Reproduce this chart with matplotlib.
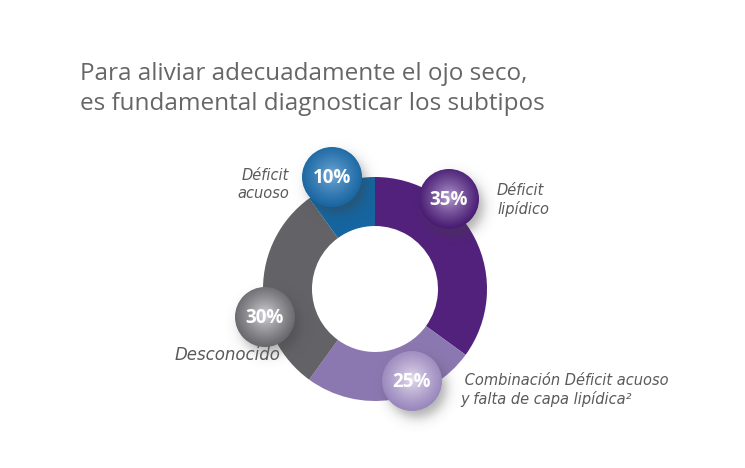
import numpy as np
import matplotlib
matplotlib.use("Agg")
import matplotlib.pyplot as plt
from matplotlib.patches import Circle
from matplotlib.colors import to_rgb

# data
categories = ["Déficit lipídico",
              "Combinación Déficit acuoso y falta de capa lipídica²",
              "Desconocido",
              "Déficit acuoso"]
values = [35, 25, 30, 10]
pct_labels = ["35%", "25%", "30%", "10%"]
side_labels = ["Déficit\nlipídico",
               " Combinación Déficit acuoso\ny falta de capa lipídica²",
               "Desconocido",
               "Déficit\nacuoso"]
title = "Para aliviar adecuadamente el ojo seco,\nes fundamental diagnosticar los subtipos"

# style / layout
colors = ["#52217c", "#8b78b0", "#636267", "#1565a0"]
bubble_light = ["#bba6d6", "#ebe4f2", "#dcdbe0", "#78aeda"]
bubble_dark = ["#4a1d74", "#9a88bd", "#6a696e", "#1b67a3"]
bubble_pos = [(449, 199), (412, 381), (265, 317), (332, 177)]
bubble_r = 30
label_pos = [(497, 200, "left"), (460, 390, "left"), (280, 355, "right"), (289, 184, "right")]
label_size = [10.5, 10.5, 12, 10.5]
W, H = 745, 468
cx, cy, R, R_in = 375, 289, 112, 63

fig = plt.figure(figsize=(W / 100, H / 100), dpi=100)
ax = fig.add_axes([0, 0, 1, 1])

# y axis is flipped below (pixel style), so counterclockwise in data = clockwise on screen
ax.pie(values, colors=colors, startangle=-90, counterclock=True,
       center=(cx, cy), radius=R,
       wedgeprops=dict(width=R - R_in, linewidth=0))

# soft shadows for the bubbles
yy, xx = np.mgrid[0:H, 0:W] + 0.5
shadow = np.zeros((H, W))
for (bx, by) in bubble_pos:
    d = np.hypot(xx - (bx + 5), yy - (by + 7))
    shadow = np.maximum(shadow, 0.42 / (1 + np.exp((d - bubble_r + 1) / 3.5)))
sh = np.zeros((H, W, 4))
sh[..., :3] = 0.25
sh[..., 3] = shadow
ax.imshow(sh, extent=(0, W, H, 0), origin="upper", zorder=3, interpolation="bilinear")

# bubbles with radial gradient
for (bx, by), c1, c2, txt in zip(bubble_pos, bubble_light, bubble_dark, pct_labels):
    n = 2 * bubble_r
    gy, gx = np.mgrid[0:n, 0:n] + 0.5
    t = np.clip(np.hypot(gx - bubble_r, gy - bubble_r + 2) / (bubble_r * 1.02), 0, 1) ** 0.75
    img = (1 - t)[..., None] * np.array(to_rgb(c1)) + t[..., None] * np.array(to_rgb(c2))
    im = ax.imshow(img, extent=(bx - bubble_r, bx + bubble_r, by + bubble_r, by - bubble_r),
                   origin="upper", zorder=4, interpolation="bilinear")
    im.set_clip_path(Circle((bx, by), bubble_r, transform=ax.transData))
    ax.text(bx, by + 1, txt, color="white", fontsize=13.5, fontweight="bold",
            family="Open Sans", ha="center", va="center", zorder=5)

for (lx, ly, ha), lab, fs in zip(label_pos, side_labels, label_size):
    ax.text(lx, ly, lab, color="#5a5a5a", fontsize=fs, style="italic",
            family="DejaVu Sans", ha=ha, va="center", linespacing=1.25, zorder=5)

ax.text(80, 89, title, color="#666666", fontsize=17.5, family="Open Sans",
        ha="left", va="center", linespacing=1.35)

ax.set_xlim(0, W)
ax.set_ylim(H, 0)
ax.set_aspect("auto")
ax.axis("off")
fig.savefig("out.png", dpi=100, facecolor="white")
